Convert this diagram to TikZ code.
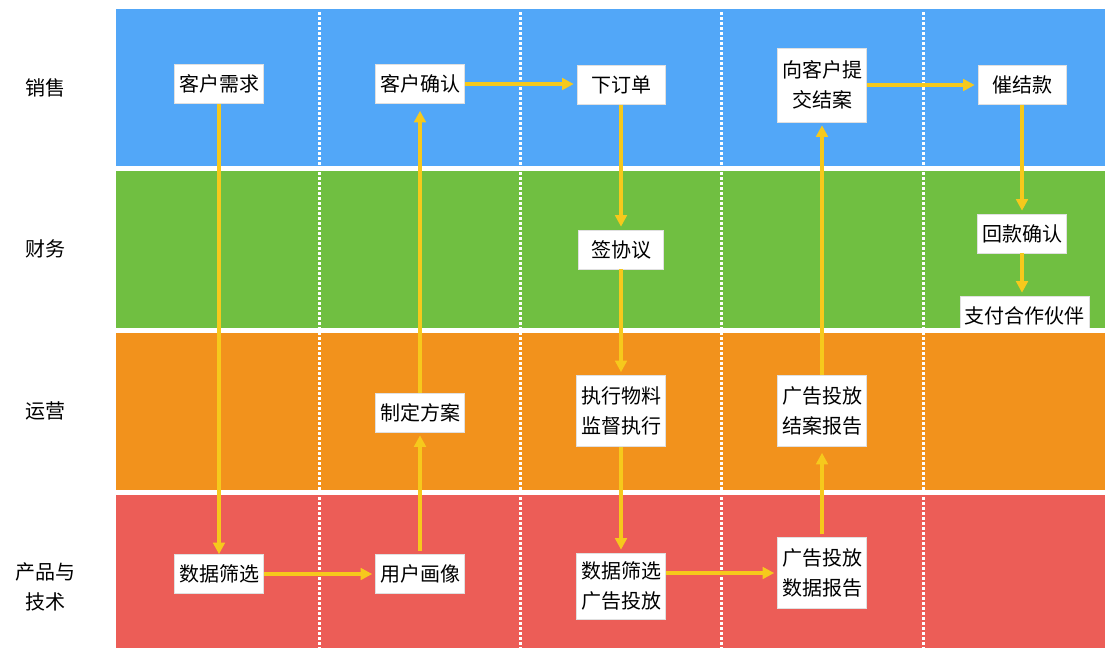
\documentclass[tikz,border=0pt]{standalone}
\usepackage{fontspec}
\newfontfamily\cjk{Noto Sans CJK SC}
\usetikzlibrary{arrows.meta}
\definecolor{laneblue}{HTML}{52A7F8}
\definecolor{lanegreen}{HTML}{70BF41}
\definecolor{laneorange}{HTML}{F2921C}
\definecolor{lanered}{HTML}{EC5D57}
\definecolor{flowyellow}{HTML}{F6C91C}
\tikzset{
  sep/.style={white, line width=3pt, dash pattern=on 3pt off 2pt},
  box/.style={draw=black!12, fill=white, line width=0.6pt, inner xsep=4.5pt, inner ysep=0pt,
    minimum height=39pt, minimum width=88pt, font=\cjk\fontsize{20}{30}\selectfont, align=center, text=black},
  tall/.style={box, minimum height=71pt},
  lanelabel/.style={font=\cjk\fontsize{20}{30}\selectfont, align=center, text=black},
  arr/.style={draw=flowyellow, line width=3.2pt, -{Triangle[length=11.5pt,width=11.5pt]}, shorten >=3pt}
}
\begin{document}
\begin{tikzpicture}[x=1pt,y=-1pt]
\useasboundingbox (0,0) rectangle (1105,648);
% lanes
\fill[laneblue]   (116,9)     rectangle (1105,166);
\fill[lanegreen]  (116,170.5) rectangle (1105,327.5);
\fill[laneorange] (116,332.5) rectangle (1105,489.5);
\fill[lanered]    (116,494.5) rectangle (1105,648);
% column separators
\foreach \x in {319,520,721,923}{
  \draw[sep] (\x,12) -- (\x,648);
}
% lane labels
\node[lanelabel] (L1) at (45,88) {销售};
\node[lanelabel] (L2) at (45,249) {财务};
\node[lanelabel] (L3) at (45,411) {运营};
\node[lanelabel] (L4) at (45,587) {产品与\\技术};
% sales
\node[box] (n1) at (219,84) {客户需求};
\node[box] (n2) at (420,84) {客户确认};
\node[box] (n3) at (621,85) {下订单};
\node[box, minimum height=74pt] (n4) at (822,85) {向客户提\\交结案};
\node[box] (n5) at (1022,85) {催结款};
% finance
\node[box, minimum width=85pt] (f1) at (621,249.5) {签协议};
\node[box] (f2) at (1022,233.5) {回款确认};
\begin{scope}
\clip (116,170.5) rectangle (1105,327.5);
\node[box] (f3) at (1024.5,315.5) {支付合作伙伴};
\end{scope}
% operations
\node[box] (o1) at (420,412.5) {制定方案};
\node[tall] (o2) at (621,411) {执行物料\\监督执行};
\node[tall] (o3) at (822,411) {广告投放\\结案报告};
% product & tech
\node[box] (p1) at (219,574) {数据筛选};
\node[box] (p2) at (420,574) {用户画像};
\node[box, minimum height=66pt] (p3) at (621,586) {数据筛选\\广告投放};
\node[tall] (p4) at (822,573) {广告投放\\数据报告};
% connectors
\draw[arr, shorten >=0pt] (n1.south) -- (n1.south |- p1.north);
\draw[arr] (p1.east) -- (p2.west);
\draw[arr, shorten <=3pt] (p2.north) -- (p2.north |- o1.south);
\draw[arr, shorten >=7pt] (o1.north) -- (o1.north |- n2.south);
\draw[arr] (n2.east) -- (n2.east -| n3.west);
\draw[arr] (n3.south) -- (n3.south |- f1.north);
\draw[arr] (f1.south) -- (f1.south |- o2.north);
\draw[arr] (o2.south) -- (o2.south |- p3.north);
\draw[arr] (p3.east |- p4.west) -- (p4.west);
\draw[arr, shorten <=3pt, shorten >=6pt] (p4.north) -- (p4.north |- o3.south);
\draw[arr] (o3.north) -- (o3.north |- n4.south);
\draw[arr] (n4.east |- n5.west) -- (n5.west);
\draw[arr] (n5.south) -- (n5.south |- f2.north);
\draw[arr] (f2.south) -- (f2.south |- f3.north);
\end{tikzpicture}
\end{document}
